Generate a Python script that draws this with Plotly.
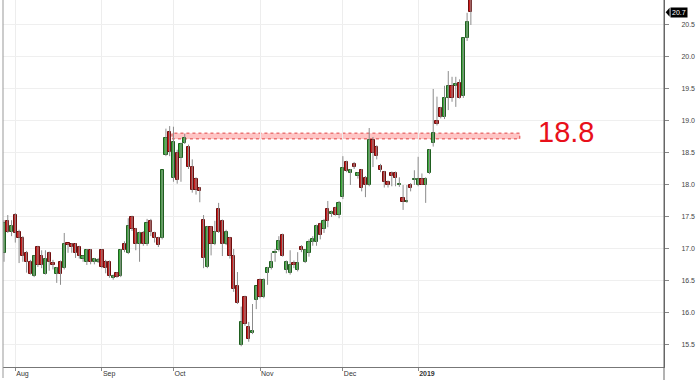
import plotly.graph_objects as go

# OHLC data, one candle per trading day (late Jul 2018 -> mid Jan 2019)
opens = [16.94,17.44,17.27,17.53,17.27,17.17,16.94,16.80,16.58,17.03,16.89,16.61,16.94,16.78,16.61,16.80,16.70,17.08,17.08,17.08,17.03,16.84,16.80,16.98,16.80,16.80,
         16.98,16.80,16.80,16.54,16.62,16.58,17.08,16.94,17.50,17.31,17.08,17.25,17.08,17.44,17.25,17.17,17.17,18.47,18.82,
         18.11,18.50,18.42,18.66,18.60,18.28,18.09,17.95,17.45,16.72,17.34,17.08,17.63,17.44,17.08,17.17,16.89,16.42,15.50,16.25,15.78,15.69,16.20,
         16.52,16.25,16.62,16.70,16.94,16.98,17.22,16.67,16.62,16.78,16.67,17.03,16.80,16.94,17.11,17.11,17.39,17.31,17.63,17.55,17.64,17.53,
         17.81,18.36,18.19,18.33,18.14,18.23,18.11,18.00,18.70,18.60,18.30,18.20,18.05,18.19,18.19,18.00,17.80,17.73,18.00,18.07,
         18.00,18.09,18.00,18.19,18.66,19.00,19.20,19.06,19.36,19.55,19.55,19.59,19.39,20.30,20.89]
highs = [17.45,17.53,17.45,17.56,17.30,17.20,16.97,16.83,16.90,17.05,16.98,16.98,16.96,16.83,16.72,16.82,17.25,17.09,17.09,17.09,17.05,16.90,17.00,17.00,16.86,16.86,
         17.00,16.83,16.82,16.60,16.64,17.00,17.12,17.48,17.52,17.33,17.27,17.28,17.47,17.47,17.27,17.19,18.23,18.88,18.92,
         18.91,18.55,18.66,18.80,18.63,18.40,18.12,17.97,17.53,17.36,17.36,17.44,17.72,17.46,17.30,17.19,17.00,16.64,16.10,16.27,15.86,16.14,16.42,
         16.54,16.54,16.72,16.94,17.00,17.20,17.24,16.82,16.98,16.82,16.95,17.06,17.00,17.15,17.20,17.38,17.41,17.47,17.75,17.60,17.66,17.75,
         18.45,18.38,18.25,18.36,18.20,18.25,18.14,18.89,18.75,18.62,18.33,18.22,18.07,18.21,18.21,18.12,18.00,18.00,18.03,18.23,
         18.44,18.18,18.12,18.56,19.50,19.38,19.22,19.55,19.78,19.69,19.69,19.65,20.30,20.69,20.95]
lows = [16.80,17.25,17.20,17.10,16.78,16.80,16.63,16.60,16.56,16.72,16.70,16.60,16.66,16.68,16.47,16.44,16.68,16.94,16.94,16.86,16.85,16.80,16.75,16.76,16.76,16.78,
        16.70,16.62,16.55,16.52,16.55,16.56,16.95,16.92,17.28,16.98,16.80,17.05,17.05,17.20,17.10,17.03,17.15,18.45,18.45,
        18.05,18.02,18.05,18.64,18.25,17.88,17.85,17.73,16.70,16.70,16.90,17.06,17.25,16.89,17.06,16.85,16.33,16.14,15.48,15.80,15.55,15.67,16.06,
        16.23,16.23,16.44,16.68,16.80,16.96,16.88,16.62,16.60,16.70,16.65,16.95,16.78,16.88,17.05,17.05,17.15,17.25,17.34,17.50,17.52,17.48,
        17.78,18.20,18.00,18.25,18.10,17.90,17.81,17.98,18.28,18.40,18.20,17.96,17.96,17.98,17.98,17.97,17.61,17.72,17.90,18.00,
        17.98,18.00,17.72,18.17,18.60,18.93,19.04,19.03,19.17,19.30,19.22,19.35,19.36,20.25,20.50]
closes = [17.41,17.27,17.36,17.25,17.17,16.89,16.80,16.61,16.89,16.75,16.75,16.84,16.80,16.75,16.70,16.61,17.08,17.07,17.03,16.94,16.89,16.89,16.98,16.80,16.84,16.83,
          16.72,16.70,16.58,16.58,16.57,16.98,16.98,17.36,17.31,17.08,17.25,17.08,17.41,17.27,17.17,17.06,18.23,18.73,18.52,
          18.67,18.08,18.64,18.73,18.28,17.92,17.92,17.90,16.86,17.34,17.08,17.27,17.27,17.08,17.27,16.89,16.37,16.16,15.86,15.83,15.59,15.72,16.42,
          16.25,16.52,16.70,16.80,16.96,17.13,16.89,16.80,16.75,16.75,16.78,16.98,16.98,17.11,17.15,17.36,17.22,17.44,17.44,17.58,17.53,17.72,
          18.27,18.22,18.23,18.28,18.19,17.95,18.00,18.70,18.50,18.45,18.23,18.05,18.00,18.14,18.11,18.01,17.73,17.74,17.95,18.08,
          18.09,18.00,18.09,18.55,18.81,18.95,19.06,19.36,19.55,19.36,19.56,19.36,20.30,20.55,20.70]

month_ticks = [3, 26, 45, 68, 90, 110]
month_labels = ["Aug", "Sep", "Oct", "Nov", "Dec", "<b>2019</b>"]
y_ticks = [15.5, 16.0, 16.5, 17.0, 17.5, 18.0, 18.5, 19.0, 19.5, 20.0, 20.5]

resist_low, resist_high = 18.72, 18.81
resist_label = "18.8"
last_price = closes[-1]

idx = list(range(len(opens)))
MINH = 0.02

up_x, up_base, up_h = [], [], []
dn_x, dn_base, dn_h = [], [], []
wx, wy = [], []
for i, o, h, l, c in zip(idx, opens, highs, lows, closes):
    wx += [i, i, None]
    wy += [l, h, None]
    if c >= o:
        up_x.append(i); up_base.append(o); up_h.append(max(c - o, MINH))
    else:
        dn_x.append(i); dn_base.append(c); dn_h.append(max(o - c, MINH))

fig = go.Figure()
fig.add_trace(go.Scatter(x=wx, y=wy, mode="lines", line=dict(color="#8c8c8c", width=1),
                         hoverinfo="skip", showlegend=False))
fig.add_trace(go.Bar(x=up_x, y=up_h, base=up_base, width=0.85,
                     marker=dict(color="#3cae3c", line=dict(color="#1f5f1f", width=1)),
                     showlegend=False))
fig.add_trace(go.Bar(x=dn_x, y=dn_h, base=dn_base, width=0.85,
                     marker=dict(color="#cc1f1f", line=dict(color="#6e0d0d", width=1)),
                     showlegend=False))

# resistance zone
fig.add_shape(type="rect", xref="x", yref="y", x0=44.6, x1=137.0, y0=resist_low, y1=resist_high,
              fillcolor="rgba(255,150,150,0.55)", line=dict(color="#e04040", width=1, dash="dot"),
              layer="below")
fig.add_annotation(x=149.2, y=18.82, xref="x", yref="y", text=resist_label, showarrow=False,
                   font=dict(family="Liberation Sans, Arial", size=29, color="#e8101a"))

# left border and right axis extension
fig.add_shape(type="line", xref="paper", yref="paper", x0=0, x1=0, y0=-0.03, y1=1,
              line=dict(color="#999999", width=1))
fig.add_shape(type="line", xref="paper", yref="paper", x0=1, x1=1, y0=-0.04, y1=1,
              line=dict(color="#666666", width=1))

# last price marker
fig.add_shape(type="path", xref="paper", yref="y",
              path=f"M 1.0025,{last_price} L 1.0085,{last_price + 0.07} L 1.0085,{last_price - 0.07} Z",
              fillcolor="black", line=dict(width=0))
fig.add_annotation(x=1.0085, y=last_price, xref="paper", yref="y", xanchor="left",
                   text=f"{last_price:.1f}", showarrow=False, bgcolor="black", borderpad=1,
                   font=dict(family="Liberation Sans, Arial", size=7, color="white"))

fig.update_layout(
    width=700, height=380,
    margin=dict(l=3, r=36, t=0, b=13),
    paper_bgcolor="white", plot_bgcolor="white",
    barmode="overlay", bargap=0, showlegend=False,
    xaxis=dict(range=[-0.27, 175.3], tickvals=month_ticks, ticktext=month_labels,
               ticks="outside", ticklen=3, tickcolor="#888888", ticklabelposition="outside right",
               showgrid=True, gridcolor="#ededed", showline=True, linecolor="#777777",
               zeroline=False, automargin=False,
               tickfont=dict(family="Liberation Sans, Arial", size=7, color="#333333")),
    yaxis=dict(range=[15.156, 20.89], side="right", tickvals=y_ticks, tickformat=".1f",
               ticks="outside", ticklen=4, tickcolor="#888888", ticklabelstandoff=11,
               showgrid=True, gridcolor="#efefef", showline=True, linecolor="#666666",
               zeroline=False, automargin=False,
               tickfont=dict(family="Liberation Sans, Arial", size=7, color="#444444")),
)

fig.write_html("out.html", config={"displayModeBar": False},
               post_script="document.body.style.margin='0';document.body.style.overflow='hidden';")
